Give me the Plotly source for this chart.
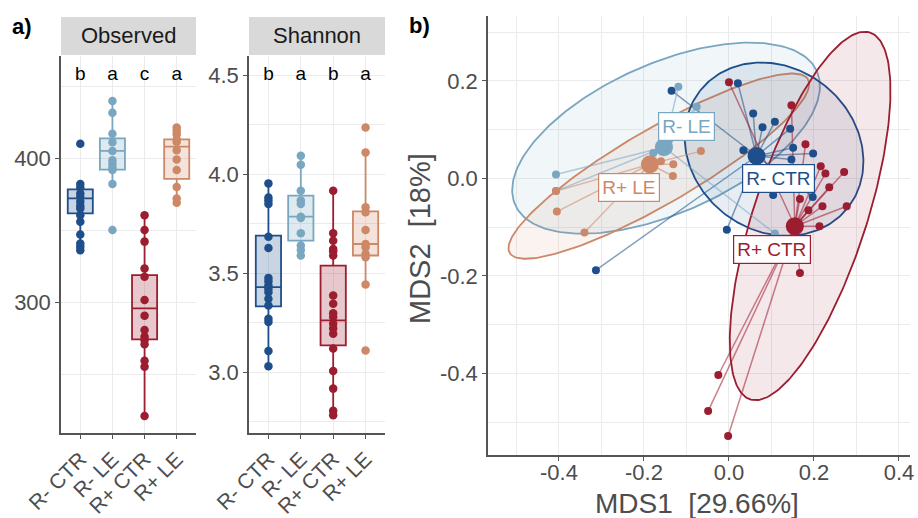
import numpy as np
import plotly.graph_objects as go

# ---------------- data ----------------
groups = ["R- CTR", "R- LE", "R+ CTR", "R+ LE"]
group_colors = ["#1f4f8b", "#79a6c0", "#9c1c30", "#cd8867"]

# a) Observed richness (points)
obs_r_ctr = [410, 382, 379.6, 375.5, 373, 369.7, 366.7, 365, 360.4, 355.8, 347, 340.7, 338.4, 336]
obs_r_le = [439.8, 431.5, 417, 411, 405, 398.6, 396, 393.5, 391.7, 382, 350]
obs_rp_ctr = [360.4, 350, 342, 323.4, 317.6, 301.4, 290.5, 280.6, 276, 273.6, 270.6, 259.2, 255, 220.8]
obs_rp_le = [421.3, 419, 416.7, 413, 411.3, 405.5, 399, 391.7, 380, 372, 369]
# box statistics
obs_q1 = [361.6, 392, 274, 385.6]
obs_median = [372, 405, 295.6, 408]
obs_q3 = [378.3, 413.7, 318.7, 413]
obs_lower = [336, 382, 220.8, 369]
obs_upper = [382, 439.8, 360.4, 421.3]
obs_letters = ["b", "a", "c", "a"]

# a) Shannon diversity (points)
shan_r_ctr = [3.953, 3.882, 3.866, 3.849, 3.684, 3.627, 3.476, 3.459, 3.438, 3.421, 3.404, 3.371, 3.337, 3.27, 3.253, 3.107, 3.030]
shan_r_le = [4.092, 4.047, 3.916, 3.866, 3.849, 3.785, 3.778, 3.701, 3.639, 3.617, 3.589]
shan_rp_ctr = [3.916, 3.701, 3.664, 3.622, 3.610, 3.589, 3.387, 3.345, 3.298, 3.278, 3.245, 3.220, 3.194, 3.119, 3.006, 2.917, 2.805, 2.783]
shan_rp_le = [4.235, 4.109, 3.832, 3.807, 3.718, 3.647, 3.630, 3.597, 3.580, 3.443, 3.110]
shan_q1 = [3.332, 3.664, 3.135, 3.589]
shan_median = [3.429, 3.785, 3.261, 3.647]
shan_q3 = [3.689, 3.891, 3.538, 3.812]
shan_lower = [3.030, 3.589, 2.783, 3.443]
shan_upper = [3.953, 4.092, 3.916, 4.109]
shan_letters = ["b", "a", "b", "a"]

# b) MDS ordination
mds_r_ctr_x = [-0.135, 0.021, 0.057, 0.108, 0.079, 0.144, 0.034, 0.151, 0.198, 0.147, 0.104, 0.197, -0.005, -0.313]
mds_r_ctr_y = [0.180, 0.195, 0.133, 0.116, 0.105, 0.102, 0.058, 0.063, 0.051, 0.039, -0.034, -0.038, -0.105, -0.188]
mds_r_le_x = [-0.119, -0.076, -0.178, -0.407, -0.407, 0.108, -0.140]
mds_r_le_y = [0.188, 0.147, 0.052, 0.008, -0.026, -0.113, 0.080]
mds_rp_ctr_x = [0.0, 0.147, 0.180, 0.216, 0.227, 0.271, 0.236, 0.167, 0.220, 0.187, 0.277, 0.213, 0.167, -0.025, -0.049, -0.002]
mds_rp_ctr_y = [0.197, 0.150, 0.070, 0.025, 0.010, 0.013, -0.018, -0.042, -0.057, -0.065, -0.057, -0.098, -0.194, -0.403, -0.477, -0.528]
mds_rp_le_x = [-0.407, -0.405, -0.340, -0.131, -0.132, -0.066, -0.160]
mds_rp_le_y = [-0.026, -0.068, -0.111, 0.029, 0.005, 0.056, 0.035]
centroid_x = [0.065, -0.153, 0.155, -0.186]
centroid_y = [0.046, 0.064, -0.098, 0.029]
# 95% ellipses: centre and two conjugate semi-diameters (data units)
ell_cx = [0.106, -0.148, 0.191, -0.165]
ell_cy = [0.060, 0.0826, -0.077, 0.0252]
ell_ux = [0.202, 0.355, 0.141, 0.351]
ell_uy = [-0.0735, 0.137, 0.376, 0.178]
ell_vx = [0.0588, 0.0713, 0.126, 0.0446]
ell_vy = [0.1617, -0.140, -0.036, -0.0662]

# ---------------- helpers ----------------
W, H = 918, 518
FONT = "Liberation Sans, Arial, sans-serif"
AX = "#555555"
GRID = "#ebebeb"
TXT = "#4d4d4d"


def px(x):
    return x / W


def py(y):
    return 1 - y / H


def rgba(h, a):
    h = h.lstrip("#")
    return "rgba(%d,%d,%d,%s)" % (int(h[0:2], 16), int(h[2:4], 16), int(h[4:6], 16), a)


fig = go.Figure()

panels = [
    ("x", "y", [obs_r_ctr, obs_r_le, obs_rp_ctr, obs_rp_le], obs_q1, obs_median, obs_q3, obs_lower, obs_upper, obs_letters, 457.6),
    ("x2", "y2", [shan_r_ctr, shan_r_le, shan_rp_ctr, shan_rp_le], shan_q1, shan_median, shan_q3, shan_lower, shan_upper, shan_letters, 4.5),
]
for xa, ya, pts, q1, md, q3, lo, hi, letters, ly in panels:
    for i, g in enumerate(groups):
        c = group_colors[i]
        fig.add_trace(go.Box(
            x=[g], q1=[q1[i]], median=[md[i]], q3=[q3[i]], lowerfence=[lo[i]], upperfence=[hi[i]],
            fillcolor=rgba(c, 0.24), line=dict(color=c, width=1.8), whiskerwidth=0, width=0.78,
            boxpoints=False, xaxis=xa, yaxis=ya, showlegend=False, hoverinfo="skip"))
        fig.add_trace(go.Scatter(
            x=[g] * len(pts[i]), y=pts[i], mode="markers", marker=dict(color=c, size=8.5),
            xaxis=xa, yaxis=ya, showlegend=False, hoverinfo="skip"))
    fig.add_trace(go.Scatter(
        x=groups, y=[ly] * 4, mode="text", text=letters, textfont=dict(size=19, color="black", family=FONT),
        xaxis=xa, yaxis=ya, showlegend=False, hoverinfo="skip"))

mds_x = [mds_r_ctr_x, mds_r_le_x, mds_rp_ctr_x, mds_rp_le_x]
mds_y = [mds_r_ctr_y, mds_r_le_y, mds_rp_ctr_y, mds_rp_le_y]

t = np.linspace(0, 2 * np.pi, 240)
for i in [1, 3, 0, 2]:
    c = group_colors[i]
    ex = ell_cx[i] + ell_ux[i] * np.cos(t) + ell_vx[i] * np.sin(t)
    ey = ell_cy[i] + ell_uy[i] * np.cos(t) + ell_vy[i] * np.sin(t)
    fig.add_trace(go.Scatter(x=ex, y=ey, mode="lines", fill="toself", fillcolor=rgba(c, 0.1),
                             line=dict(color=c, width=1.8), xaxis="x3", yaxis="y3",
                             showlegend=False, hoverinfo="skip"))

for i in range(4):
    c = group_colors[i]
    sx, sy = [], []
    for xv, yv in zip(mds_x[i], mds_y[i]):
        sx += [centroid_x[i], xv, None]
        sy += [centroid_y[i], yv, None]
    fig.add_trace(go.Scatter(x=sx, y=sy, mode="lines", line=dict(color=rgba(c, 0.55), width=1.5),
                             xaxis="x3", yaxis="y3", showlegend=False, hoverinfo="skip"))

for i in range(4):
    c = group_colors[i]
    fig.add_trace(go.Scatter(x=mds_x[i], y=mds_y[i], mode="markers", marker=dict(color=c, size=8),
                             xaxis="x3", yaxis="y3", showlegend=False, hoverinfo="skip"))
for i in range(4):
    c = group_colors[i]
    fig.add_trace(go.Scatter(x=[centroid_x[i]], y=[centroid_y[i]], mode="markers",
                             marker=dict(color=c, size=18), xaxis="x3", yaxis="y3",
                             showlegend=False, hoverinfo="skip"))

label_pos = {"R- CTR": (0.116, 0.0), "R- LE": (-0.101, 0.107), "R+ CTR": (0.102, -0.145), "R+ LE": (-0.235, -0.019)}
annotations = []
for i, g in enumerate(groups):
    lx, lyv = label_pos[g]
    annotations.append(dict(x=lx, y=lyv, xref="x3", yref="y3", text=g, showarrow=False,
                            xanchor="center", yanchor="middle",
                            font=dict(size=19, color=group_colors[i], family=FONT),
                            bgcolor="white", bordercolor=group_colors[i], borderwidth=1.2, borderpad=3))

# strips
shapes = []
for x0, x1, label in [(61, 196, "Observed"), (249, 385, "Shannon")]:
    shapes.append(dict(type="rect", xref="paper", yref="paper", x0=px(x0), x1=px(x1), y0=py(55), y1=py(17),
                       fillcolor="#d9d9d9", line=dict(width=0), layer="below"))
    annotations.append(dict(x=px((x0 + x1) / 2), y=py(36), xref="paper", yref="paper", text=label,
                            xanchor="center", yanchor="middle",
                            showarrow=False, font=dict(size=22, color="#1a1a1a", family=FONT)))


def paper_text(x, y, text, size, color, angle=0):
    annotations.append(dict(x=px(x), y=py(y), xref="paper", yref="paper", text=text, showarrow=False,
                            xanchor="center", yanchor="middle", textangle=angle,
                            font=dict(size=size, color=color, family=FONT)))


paper_text(22, 26, "<b>a)</b>", 22, "black")
paper_text(419, 25, "<b>b)</b>", 22, "black")
paper_text(697, 503, "MDS1\u00a0\u00a0[29.66%]", 28, TXT)
paper_text(420, 239, "MDS2\u00a0\u00a0[18%]", 29, TXT, -90)

common = dict(showline=True, linecolor=AX, linewidth=1.5, ticks="outside", ticklen=4, tickcolor=AX,
              tickwidth=1.3, showgrid=True, gridcolor=GRID, gridwidth=1, zeroline=False, automargin=False,
              tickfont=dict(size=22, color=TXT, family=FONT))
cat_axis = dict(common, type="category", categoryorder="array", categoryarray=groups, range=[-0.6, 3.6],
                tickangle=-45, tickfont=dict(size=21, color=TXT, family=FONT))
minor = lambda vals: dict(tickvals=vals, showgrid=True, gridcolor=GRID, gridwidth=1, ticks="")

fig.update_layout(
    width=W, height=H, margin=dict(l=0, r=0, t=0, b=0, autoexpand=False),
    paper_bgcolor="white", plot_bgcolor="white",
    font=dict(family=FONT, color=TXT),
    xaxis=dict(cat_axis, domain=[px(61), px(196)], anchor="y"),
    yaxis=dict(common, domain=[py(433), py(56)], anchor="x", range=[209, 471],
               tickvals=[300, 400], minor=minor([250, 350, 450])),
    xaxis2=dict(cat_axis, domain=[px(249), px(385)], anchor="y2"),
    yaxis2=dict(common, domain=[py(433), py(56)], anchor="x2", range=[2.693, 4.596],
                tickvals=[3.0, 3.5, 4.0, 4.5], ticktext=["3.0", "3.5", "4.0", "4.5"],
                minor=minor([2.75, 3.25, 3.75, 4.25])),
    xaxis3=dict(common, domain=[px(488), px(910)], anchor="y3", range=[-0.567, 0.426],
                tickvals=[-0.4, -0.2, 0.0, 0.2, 0.4], ticktext=["-0.4", "-0.2", "0.0", "0.2", "0.4"],
                ticklabelstandoff=-7,
                minor=minor([-0.5, -0.3, -0.1, 0.1, 0.3])),
    yaxis3=dict(common, domain=[py(455), py(16)], anchor="x3", range=[-0.567, 0.333],
                tickvals=[-0.4, -0.2, 0.0, 0.2], ticktext=["-0.4", "-0.2", "0.0", "0.2"],
                minor=minor([-0.5, -0.3, -0.1, 0.1, 0.3])),
    shapes=shapes, annotations=annotations,
)

fig.write_html(
    "out.html",
    config={"displayModeBar": False},
    post_script="document.body.style.margin='0';document.body.style.padding='0';"
                "document.body.style.overflow='hidden';",
)
